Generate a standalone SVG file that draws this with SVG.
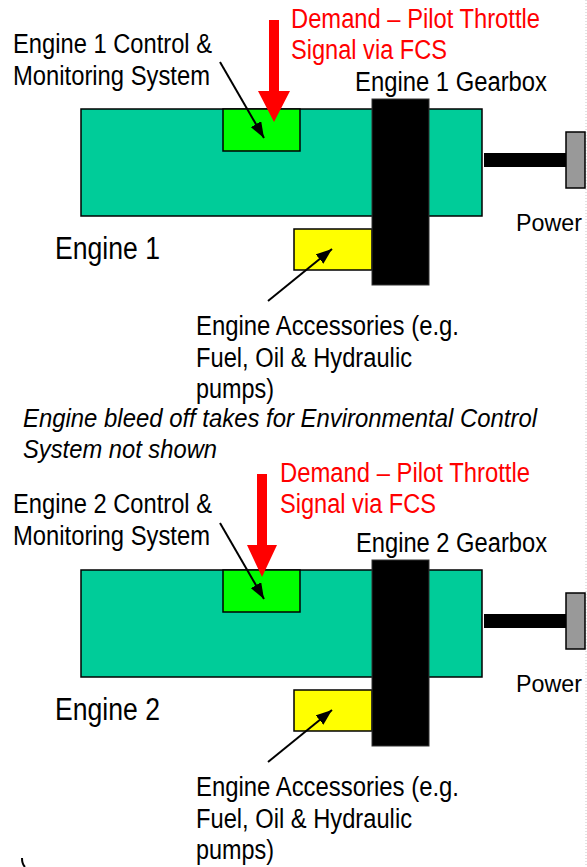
<svg xmlns="http://www.w3.org/2000/svg" width="587" height="867" viewBox="0 0 587 867">
<defs>
<style>
text{font-family:"Liberation Sans",Arial,sans-serif;font-size:27px;fill:#000}
.red{fill:#ff0000}
.big{font-size:31px}
.it{font-style:italic;font-size:26px}
.pw{font-size:24.5px}
.body{fill:#00cc99;stroke:#000;stroke-width:1.5}
.ctrl{fill:#00ff00;stroke:#000;stroke-width:1.5}
.acc{fill:#ffff00;stroke:#000;stroke-width:1.5}
.gear{fill:#000;stroke:#333;stroke-width:1}
.shaft{fill:#000}
.out{fill:#999;stroke:#000;stroke-width:1.5}
.lead{stroke:#000;stroke-width:2;fill:none;marker-end:url(#ah)}
.dem{fill:#ff0000}
</style>
<marker id="ah" viewBox="0 0 16 12" refX="16" refY="6" markerWidth="16" markerHeight="12" markerUnits="userSpaceOnUse" orient="auto">
<path d="M0,0 L16,6 L0,12 z" fill="#000"/>
</marker>
</defs>
<rect width="587" height="867" fill="#fff"/>
<line x1="586" y1="0" x2="586" y2="867" stroke="#c8c8c8" stroke-width="1" stroke-dasharray="1,2"/>

<!-- Engine 1 -->
<g id="engine1">
<rect class="body" x="81" y="109" width="401" height="107"/>
<text class="big" x="55" y="259" textLength="105" lengthAdjust="spacingAndGlyphs">Engine 1</text>
</g>
<g id="engine1-control">
<rect class="ctrl" x="223" y="109" width="77" height="42"/>
<text x="13" y="53" textLength="199" lengthAdjust="spacingAndGlyphs">Engine 1 Control &amp;</text>
<text x="13" y="85" textLength="197" lengthAdjust="spacingAndGlyphs">Monitoring System</text>
</g>
<g id="engine1-accessories">
<rect class="acc" x="294" y="229" width="78" height="41"/>
<text x="196" y="335" textLength="263" lengthAdjust="spacingAndGlyphs">Engine Accessories (e.g.</text>
<text x="196" y="367" textLength="216" lengthAdjust="spacingAndGlyphs">Fuel, Oil &amp; Hydraulic</text>
<text x="196" y="398" textLength="78" lengthAdjust="spacingAndGlyphs">pumps)</text>
</g>
<g id="engine1-gearbox">
<rect class="gear" x="372" y="99" width="57" height="186"/>
<text x="355" y="91" textLength="192" lengthAdjust="spacingAndGlyphs">Engine 1 Gearbox</text>
</g>
<g id="engine1-power">
<rect class="shaft" x="484" y="153" width="82" height="14"/>
<rect class="out" x="566" y="132" width="19" height="56"/>
<text class="pw" x="516" y="231" textLength="66" lengthAdjust="spacingAndGlyphs">Power</text>
</g>
<g id="engine1-demand">
<text class="red" x="291" y="28" textLength="249" lengthAdjust="spacingAndGlyphs">Demand – Pilot Throttle</text>
<text class="red" x="291" y="59" textLength="156" lengthAdjust="spacingAndGlyphs">Signal via FCS</text>
</g>

<g id="note">
<text class="it" x="23" y="427" textLength="514" lengthAdjust="spacingAndGlyphs">Engine bleed off takes for Environmental Control</text>
<text class="it" x="23" y="458" textLength="194" lengthAdjust="spacingAndGlyphs">System not shown</text>
</g>

<!-- Engine 2 -->
<g id="engine2">
<rect class="body" x="81" y="570" width="401" height="107"/>
<text class="big" x="55" y="720" textLength="105" lengthAdjust="spacingAndGlyphs">Engine 2</text>
</g>
<g id="engine2-control">
<rect class="ctrl" x="223" y="570" width="77" height="42"/>
<text x="13" y="513" textLength="199" lengthAdjust="spacingAndGlyphs">Engine 2 Control &amp;</text>
<text x="13" y="545" textLength="197" lengthAdjust="spacingAndGlyphs">Monitoring System</text>
</g>
<g id="engine2-accessories">
<rect class="acc" x="294" y="690" width="78" height="41"/>
<text x="196" y="796" textLength="263" lengthAdjust="spacingAndGlyphs">Engine Accessories (e.g.</text>
<text x="196" y="828" textLength="216" lengthAdjust="spacingAndGlyphs">Fuel, Oil &amp; Hydraulic</text>
<text x="196" y="859" textLength="78" lengthAdjust="spacingAndGlyphs">pumps)</text>
</g>
<g id="engine2-gearbox">
<rect class="gear" x="372" y="560" width="57" height="186"/>
<text x="356" y="552" textLength="191" lengthAdjust="spacingAndGlyphs">Engine 2 Gearbox</text>
</g>
<g id="engine2-power">
<rect class="shaft" x="484" y="614" width="82" height="14"/>
<rect class="out" x="566" y="593" width="19" height="56"/>
<text class="pw" x="516" y="692" textLength="66" lengthAdjust="spacingAndGlyphs">Power</text>
</g>
<g id="engine2-demand">
<text class="red" x="280" y="482" textLength="250" lengthAdjust="spacingAndGlyphs">Demand – Pilot Throttle</text>
<text class="red" x="280" y="513" textLength="156" lengthAdjust="spacingAndGlyphs">Signal via FCS</text>
</g>

<g id="connectors">
<polygon class="dem" points="269,20 279,20 279,91 290,91 274,122 258,91 269,91"/>
<line class="lead" x1="220" y1="62" x2="264" y2="138"/>
<line class="lead" x1="268" y1="301" x2="332" y2="249"/>
<polygon class="dem" points="257,474 267,474 267,545 277,545 262,577 247,545 257,545"/>
<line class="lead" x1="220" y1="523" x2="264" y2="599"/>
<line class="lead" x1="268" y1="762" x2="332" y2="710"/>
</g>

<path d="M22,858 Q22,864 25,867" fill="none" stroke="#000" stroke-width="2"/>
</svg>
